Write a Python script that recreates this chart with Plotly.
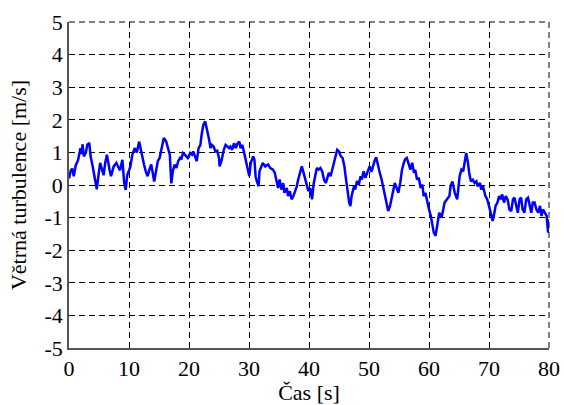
import plotly.graph_objects as go

# time [s]
t = [0.0, 0.3, 0.56, 0.79, 1.12, 1.52, 1.9, 2.1, 2.25, 2.48, 2.82, 3.05, 3.38, 3.6, 3.95,
     4.34, 4.63, 4.9, 5.19, 5.47, 5.76, 6.04, 6.32, 6.77, 7.0, 7.45, 7.9, 8.1, 8.5, 8.9,
     9.2, 9.45, 9.7, 10.2, 10.56, 10.96, 11.3, 11.7, 12.0, 12.25, 12.5, 12.8, 13.1, 13.4,
     13.7, 14.0, 14.2, 14.5, 14.8, 15.1, 15.4, 15.8, 16.2, 16.5, 16.8, 17.05, 17.3, 17.6,
     17.9, 18.2, 18.5, 18.7, 19.0, 19.3, 19.8, 20.2, 20.5, 20.7, 21.0, 21.3, 21.6, 21.9,
     22.1, 22.4, 22.7, 23.0, 23.3, 23.6, 23.8, 24.1, 24.4, 24.7, 25.0, 25.1, 25.4, 25.8,
     26.1, 26.4, 26.7, 26.9, 27.2, 27.5, 27.8, 28.1, 28.4, 28.6, 28.9, 29.2, 29.5, 29.8,
     30.05, 30.3, 30.7, 30.9, 31.1, 31.3, 31.6, 31.75, 32.0, 32.3, 32.7, 33.2, 33.55, 34.0,
     34.3, 34.6, 34.85, 35.1, 35.4, 35.7, 35.9, 36.3, 36.5, 36.8, 37.1, 37.4, 37.7, 37.96,
     38.2, 38.5, 38.8, 39.1, 39.4, 39.7, 39.9, 40.2, 40.5, 40.8, 41.1, 41.3, 41.6, 41.9,
     42.2, 42.5, 42.8, 43.1, 43.3, 43.6, 43.9, 44.2, 44.5, 44.7, 45.0, 45.3, 45.6, 45.9,
     46.1, 46.4, 46.7, 46.9, 47.1, 47.5, 47.7, 48.0, 48.3, 48.6, 48.8, 49.1, 49.4, 49.7,
     50.1, 50.4, 50.7, 50.95, 51.2, 51.5, 51.8, 52.1, 52.4, 52.6, 52.9, 53.2, 53.5, 53.8,
     54.1, 54.3, 54.6, 54.9, 55.2, 55.5, 55.8, 56.0, 56.3, 56.6, 56.9, 57.2, 57.5, 57.7,
     58.0, 58.3, 58.6, 58.9, 59.1, 59.4, 59.7, 60.0, 60.3, 60.5, 60.8, 61.1, 61.3, 61.7,
     62.1, 62.4, 62.6, 63.0, 63.4, 63.6, 63.9, 64.3, 64.7, 65.1, 65.4, 65.7, 65.9, 66.2,
     66.5, 66.7, 67.0, 67.3, 67.6, 67.9, 68.1, 68.5, 68.7, 69.0, 69.4, 69.7, 70.0, 70.3,
     70.6, 70.8, 71.1, 71.4, 71.7, 71.95, 72.2, 72.5, 72.8, 73.1, 73.4, 73.7, 74.0, 74.25,
     74.5, 74.8, 75.1, 75.35, 75.6, 75.9, 76.2, 76.5, 76.8, 77.05, 77.3, 77.6, 77.9, 78.2,
     78.5, 78.75, 79.0, 79.3, 79.6, 79.85, 80.0]

# wind turbulence [m/s]
v = [0.2, 0.45, 0.5, 0.27, 0.6, 0.77, 1.13, 0.95, 1.25, 0.88, 1.0, 1.24, 1.29, 0.88, 0.57,
     0.12, -0.13, 0.27, 0.68, 0.5, 0.3, 0.68, 0.93, 0.45, 0.27, 0.57, 0.68, 0.6, 0.45, 0.77,
     0.06, -0.15, 0.3, 0.55, 0.93, 1.13, 1.0, 1.33, 1.03, 0.78, 0.63, 0.42, 0.27, 0.47,
     0.63, 0.32, 0.11, 0.42, 0.73, 0.83, 1.13, 1.44, 1.33, 1.08, 0.93, 0.05, 0.42, 0.63,
     0.52, 0.73, 0.83, 0.78, 0.98, 0.93, 0.83, 0.98, 0.93, 1.03, 0.88, 0.73, 1.13, 1.23,
     1.54, 1.85, 1.95, 1.74, 1.44, 1.13, 1.23, 1.18, 1.03, 1.05, 0.83, 0.57, 0.73, 1.08,
     1.23, 1.18, 1.13, 1.18, 1.08, 1.28, 1.13, 1.28, 1.33, 1.13, 1.23, 0.98, 0.73, 0.4,
     0.27, 0.68, 0.88, 0.78, 0.27, 0.12, -0.04, 0.42, 0.57, 0.68, 0.57, 0.63, 0.52, 0.47,
     0.37, 0.06, -0.09, 0.17, -0.14, 0.06, -0.24, -0.09, -0.34, -0.19, -0.44, -0.34, -0.19, -0.04,
     0.17, 0.42, 0.57, 0.37, 0.17, -0.04, -0.19, -0.09, -0.44, 0.06, 0.37, 0.52, 0.47, 0.52,
     0.42, 0.17, 0.06, 0.22, 0.37, 0.27, 0.47, 0.68, 0.88, 1.08, 1.03, 0.88, 0.83, 0.57,
     0.27, -0.14, -0.54, -0.65, -0.34, -0.04, -0.14, 0.12, 0.01, 0.27, 0.17, 0.42, 0.22, 0.37,
     0.57, 0.4, 0.63, 0.75, 0.85, 0.57, 0.37, 0.17, -0.09, -0.24, -0.44, -0.8, -0.65, -0.34,
     -0.14, 0.06, -0.09, -0.24, 0.06, 0.47, 0.68, 0.78, 0.83, 0.68, 0.47, 0.68, 0.37, 0.47,
     0.17, 0.22, -0.09, 0.01, -0.34, -0.24, -0.54, -0.75, -0.95, -1.15, -1.46, -1.56, -1.36, -0.85,
     -1.0, -0.64, -0.54, -0.44, -0.34, -0.04, 0.11, -0.24, -0.44, 0.26, 0.47, 0.42, 0.67, 0.98,
     0.67, 0.37, 0.11, 0.16, 0.06, 0.11, -0.04, 0.06, -0.14, -0.04, -0.34, -0.44, -0.64, -0.85,
     -1.1, -0.95, -0.64, -0.54, -0.34, -0.44, -0.29, -0.54, -0.34, -0.44, -0.75, -0.8, -0.44, -0.39,
     -0.64, -0.85, -0.44, -0.39, -0.75, -0.85, -0.44, -0.39, -0.64, -0.85, -0.54, -0.54, -0.75, -0.85,
     -0.64, -0.95, -0.75, -0.85, -0.95, -1.46, -1.05]

x_ticks = [0, 10, 20, 30, 40, 50, 60, 70, 80]
y_ticks = [-5, -4, -3, -2, -1, 0, 1, 2, 3, 4, 5]

FONT = "Times New Roman, Liberation Serif, DejaVu Serif, serif"

fig = go.Figure()
fig.add_trace(go.Scatter(x=t, y=v, mode="lines",
                         line=dict(color="#0000FF", width=2.5), showlegend=False))

axis_common = dict(showgrid=True, gridcolor="black", gridwidth=1, griddash="6px,4px",
                   zeroline=False, showline=True, linecolor="#555555", linewidth=1.5,
                   ticks="", automargin=False,
                   tickfont=dict(family=FONT, size=22, color="black"))

fig.update_xaxes(range=[0, 80], tickvals=x_ticks, ticktext=[str(x) for x in x_ticks],
                 title=dict(text="Čas [s]", font=dict(family=FONT, size=22, color="black"), standoff=0),
                 **axis_common)
fig.update_yaxes(range=[-5, 5], tickvals=y_ticks, ticktext=[str(y) for y in y_ticks],
                 title=dict(text="Větrná turbulence [m/s]", font=dict(family=FONT, size=22, color="black"), standoff=12),
                 **axis_common)

# dashed top and right border (grid lines at range edges)
fig.add_shape(type="line", xref="paper", yref="paper", x0=0, x1=1, y0=1, y1=1,
              line=dict(color="black", width=1, dash="6px,4px"))
fig.add_shape(type="line", xref="paper", yref="paper", x0=1, x1=1, y0=0, y1=1,
              line=dict(color="black", width=1, dash="6px,4px"))

fig.update_layout(width=564, height=405, margin=dict(l=69, r=15, t=22, b=57),
                  paper_bgcolor="white", plot_bgcolor="white",
                  font=dict(family=FONT, color="black"))

fig.write_html("out.html", config={"displayModeBar": False},
               post_script="document.body.style.margin='0';document.body.style.padding='0';")
